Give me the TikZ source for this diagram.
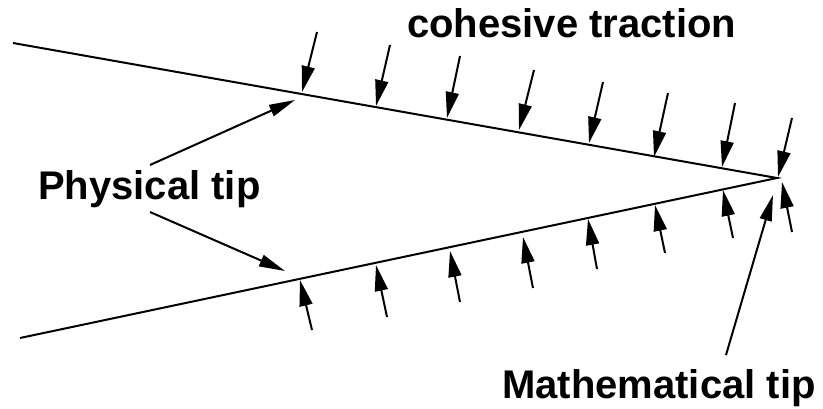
\documentclass[tikz,border=0pt]{standalone}
\usepackage{fontspec}
\setmainfont{Liberation Sans}
\usetikzlibrary{arrows.meta}
\tikzset{
  crack/.style={line width=2pt, line join=miter},
  force/.style={line width=2pt, -{Triangle[length=26pt,width=13pt]}},
  pointer/.style={line width=2pt, -{Triangle[length=26pt,width=12pt]}},
  lbl/.style={anchor=base west, inner sep=0pt, font=\fontsize{40}{48}\selectfont\bfseries}
}
\begin{document}
\begin{tikzpicture}[x=1pt,y=-1pt]
\useasboundingbox (0,0) rectangle (823,409);
% crack faces
\coordinate (A) at (13,43);
\coordinate (T) at (777,178);
\coordinate (B) at (20,338);
\draw[crack] (A) -- (T) -- (B);
% cohesive tractions, upper face
\foreach \i/\tx/\ty/\hx/\hy in {1/317/32/302/92, 2/390/45/376/106, 3/460/56/447/118, 4/534/70/519/130, 5/603/82/589/143, 6/668/93/654/157, 7/735/103/722/167, 8/792/118/778/177}{
  \coordinate (ut\i) at (\tx,\ty);
  \coordinate (uh\i) at (\hx,\hy);
  \draw[force] (ut\i) -- (uh\i);
}
% cohesive tractions, lower face
\foreach \i/\tx/\ty/\hx/\hy in {1/312/330/300/280, 2/387/317/376/265, 3/460/302/450/251, 4/533/288/523/237, 5/597/269/588/219, 6/665/253/655/205, 7/733/238/723/190, 8/792/232/782/182}{
  \coordinate (lt\i) at (\tx,\ty);
  \coordinate (lh\i) at (\hx,\hy);
  \draw[force] (lt\i) -- (lh\i);
}
% labels
\node[lbl] (coh) at (407,38) {cohesive traction};
\node[lbl] (phys) at (38,200) {Physical tip};
\node[lbl] (math) at (502,398) {Mathematical tip};
% pointers
\coordinate (p1s) at (150,165);
\coordinate (p1e) at (295,100);
\coordinate (p2s) at (150,212);
\coordinate (p2e) at (285,271);
\coordinate (ms) at (726,355);
\coordinate (me) at (773,195);
\draw[pointer] (p1s) -- (p1e);
\draw[pointer] (p2s) -- (p2e);
\draw[pointer] (ms) -- (me);
\end{tikzpicture}
\end{document}
